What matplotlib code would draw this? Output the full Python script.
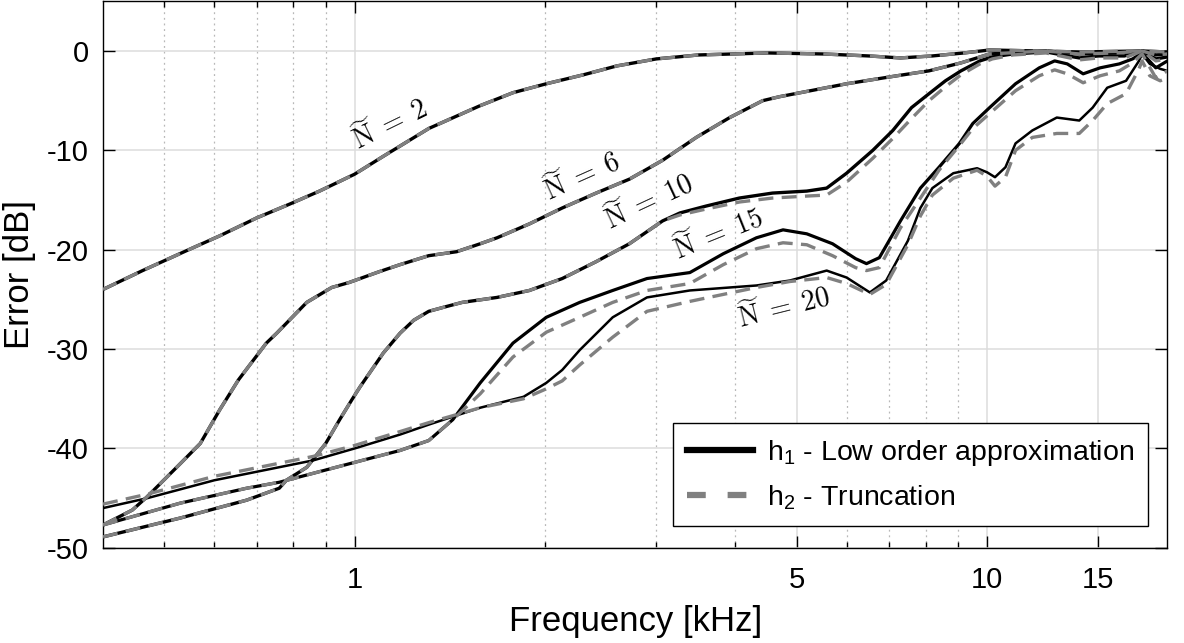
import matplotlib
matplotlib.use("Agg")
import matplotlib.pyplot as plt
from matplotlib.lines import Line2D
from matplotlib.ticker import FixedLocator, NullFormatter

plt.rcParams['font.family'] = ['Liberation Sans', 'DejaVu Sans']
plt.rcParams['mathtext.fontset'] = 'custom'
plt.rcParams['mathtext.rm'] = 'Liberation Sans'
plt.rcParams['mathtext.it'] = 'Liberation Sans:italic'
plt.rcParams['axes.unicode_minus'] = False

# frequency in kHz, error in dB
f2 = [0.40, 0.462, 0.542, 0.612, 0.70, 0.79, 0.88, 1.0, 1.11, 1.31, 1.58, 1.78, 2.01,
      2.3, 2.6, 3.0, 3.5, 4.5, 5.5, 6.5, 7.3, 8.2, 9.2, 10.1, 12, 14, 17.6, 19.3]
d2 = [-24.0, -22.1, -20.1, -18.6, -16.8, -15.4, -14.1, -12.4, -10.6, -7.8, -5.5, -4.2, -3.3,
      -2.4, -1.5, -0.8, -0.4, -0.2, -0.3, -0.5, -0.7, -0.5, -0.2, 0.1, 0.0, -0.1, 0.0, -0.1]

f6 = [0.40, 0.445, 0.469, 0.523, 0.57, 0.612, 0.655, 0.725, 0.753, 0.84, 0.92, 0.98, 1.095,
      1.18, 1.31, 1.45, 1.58, 1.68, 1.89, 2.13, 2.41, 2.72, 3.07, 3.47, 3.92, 4.42, 4.7,
      6.0, 7.2, 8.1, 9.1, 10.1, 12.4, 14, 16, 17.6, 18.5, 19.3]
d6 = [-47.7, -46.2, -44.9, -41.9, -39.5, -36.1, -33.1, -29.4, -28.4, -25.3, -23.8, -23.3, -22.2,
      -21.5, -20.6, -20.2, -19.4, -18.8, -17.4, -15.8, -14.3, -12.9, -11.0, -8.7, -6.7, -5.0, -4.6,
      -3.3, -2.5, -2.0, -1.2, -0.3, 0.0, -0.3, -0.2, 0.0, -0.4, -0.3]

f10 = [0.40, 0.53, 0.675, 0.76, 0.78, 0.84, 0.90, 0.947, 0.99, 1.02, 1.11, 1.18, 1.24, 1.31,
       1.40, 1.48, 1.68, 1.89, 2.13, 2.41, 2.72, 3.07, 3.27, 3.6, 4.06, 4.58, 5.19, 5.58, 6.0,
       6.6, 7.1, 7.6, 8.1, 8.6, 9.1, 9.75, 10.2, 11, 12.4, 14, 15, 16.5, 17.6, 18.5, 19.3]
d10_h1 = [-48.9, -47.0, -45.2, -44.0, -43.2, -41.9, -39.5, -37.1, -35.1, -33.8, -30.4, -28.4, -27.1, -26.2,
          -25.7, -25.3, -24.8, -24.1, -22.9, -21.2, -19.4, -17.1, -16.3, -15.6, -14.8, -14.3, -14.1, -13.8, -12.3,
          -10.0, -8.0, -5.7, -4.3, -3.0, -2.0, -1.0, -0.6, -0.3, -0.1, -0.7, -0.5, -0.5, 0.0, -0.8, -0.6]
d10_h2 = [-48.9, -47.0, -45.2, -44.0, -43.2, -41.9, -39.5, -37.1, -35.1, -33.8, -30.4, -28.4, -27.1, -26.2,
          -25.7, -25.3, -24.8, -24.1, -22.9, -21.2, -19.4, -17.1, -16.5, -15.9, -15.2, -14.8, -14.6, -14.5, -13.2,
          -10.8, -8.8, -6.8, -5.0, -3.6, -2.4, -1.3, -0.8, -0.4, -0.2, -0.9, -0.7, -0.7, 0.0, -1.0, -0.8]

f15 = [0.40, 0.53, 0.675, 0.76, 1.0, 1.18, 1.31, 1.43, 1.58, 1.78, 2.01, 2.27, 2.56, 2.9, 3.39,
       3.83, 4.32, 4.76, 5.19, 5.7, 6.2, 6.45, 6.76, 7.3, 7.85, 8.4, 9.05, 9.5, 10.1, 11.1, 12.1,
       12.8, 13.4, 14.2, 15.1, 16.2, 17.0, 17.6, 18.5, 19.3]
d15_h1 = [-47.7, -45.5, -44.0, -43.4, -41.4, -40.2, -39.2, -37.1, -33.4, -29.4, -26.8, -25.3, -24.1, -22.9, -22.3,
          -20.4, -18.8, -18.0, -18.4, -19.4, -20.9, -21.4, -20.8, -17.1, -13.8, -11.7, -9.3, -7.3, -5.7, -3.3, -1.7,
          -1.0, -1.3, -2.3, -1.7, -1.3, -0.8, -0.2, -1.7, -1.0]
d15_h2 = [-47.7, -45.5, -44.0, -43.4, -41.4, -40.2, -39.2, -37.1, -34.5, -30.8, -28.3, -26.8, -25.3, -24.1, -23.4,
          -21.5, -19.9, -19.3, -19.5, -20.6, -21.8, -22.1, -21.8, -17.8, -14.8, -12.0, -9.5, -7.8, -6.3, -4.0, -2.5,
          -1.9, -2.3, -3.2, -2.5, -2.0, -1.2, -0.3, -2.7, -2.0]

f20 = [0.40, 0.47, 0.60, 0.86, 1.0, 1.18, 1.31, 1.43, 1.58, 1.85, 2.01, 2.13, 2.27, 2.56, 2.9,
       3.39, 4.32, 4.88, 5.58, 6.0, 6.53, 6.93, 7.5, 7.85, 8.2, 8.85, 9.65, 10.0, 10.3, 10.7, 11.1,
       11.8, 12.9, 14.0, 14.7, 15.5, 16.6, 17.4, 17.6, 18.1, 18.8, 19.3]
d20_h1 = [-46.0, -45.0, -43.2, -41.2, -40.0, -38.6, -37.6, -36.8, -35.9, -34.8, -33.4, -32.1, -30.1, -26.8, -24.8,
          -24.1, -23.6, -23.1, -22.1, -22.8, -24.3, -23.1, -19.1, -15.8, -13.8, -12.3, -11.8, -12.2, -12.7, -11.7, -9.3,
          -8.0, -6.7, -7.0, -5.7, -3.7, -3.0, -1.0, -0.3, -1.3, -1.8, -2.0]
d20_h2 = [-45.6, -44.6, -42.8, -40.8, -39.7, -38.3, -37.4, -36.7, -35.9, -35.0, -34.0, -33.2, -31.6, -28.8, -26.2,
          -25.2, -23.8, -23.2, -22.8, -23.4, -24.5, -23.5, -19.5, -16.6, -14.5, -12.8, -12.0, -12.6, -13.6, -12.7, -10.0,
          -8.7, -8.3, -8.3, -7.0, -5.3, -4.3, -1.8, -1.0, -2.5, -3.0, -2.7]

curves = [
    (f2, d2, d2, 2.4),
    (f6, d6, d6, 2.4),
    (f10, d10_h1, d10_h2, 2.4),
    (f15, d15_h1, d15_h2, 2.3),
    (f20, d20_h1, d20_h2, 1.8),
]

# label text, position (kHz, dB), rotation
labels = [
    (r'$\widetilde{\mathrm{N}}\;=\;2$', 1.14, -7.4, 26),
    (r'$\widetilde{\mathrm{N}}\;=\;6$', 2.29, -12.6, 24),
    (r'$\widetilde{\mathrm{N}}\;=\;10$', 2.92, -15.1, 25),
    (r'$\widetilde{\mathrm{N}}\;=\;15$', 3.76, -18.4, 22),
    (r'$\widetilde{\mathrm{N}}\;=\;20$', 4.78, -25.8, 14),
]

gray = '#808080'

fig = plt.figure(figsize=(11.84, 6.43), dpi=100)
ax = fig.add_axes([0.087, 0.148, 0.899, 0.85])

for f, h1, h2, lw in curves:
    ax.plot(f, h1, color='black', lw=lw, solid_joinstyle='round', zorder=3)
    ax.plot(f, h2, color=gray, lw=2.4, dashes=(4.5, 2.5), zorder=4)

for txt, x, y, rot in labels:
    ax.text(x, y, txt, fontsize=20, rotation=rot, ha='center', va='center',
            math_fontfamily='cm', zorder=5, rotation_mode='anchor')

ax.set_xscale('log')
ax.set_xlim(0.40, 19.3)
ax.set_ylim(-50, 5)
ax.xaxis.set_major_locator(FixedLocator([1, 5, 10, 15]))
ax.xaxis.set_minor_locator(FixedLocator([0.5, 0.6, 0.7, 0.8, 0.9, 2, 3, 4, 6, 7, 8, 9]))
ax.xaxis.set_minor_formatter(NullFormatter())
ax.set_xticklabels(['1', '5', '10', '15'])
ax.set_yticks([-50, -40, -30, -20, -10, 0])

ax.grid(True, which='major', color='#dcdcdc', lw=1.1, zorder=0)
ax.grid(True, which='minor', axis='x', color='#b8b8b8', lw=0.9, ls=(0, (1.5, 3)), zorder=0)
ax.set_axisbelow(True)

ax.tick_params(which='both', direction='in', top=True, right=True, labelsize=21, width=1)
ax.tick_params(which='major', length=8.5)
ax.tick_params(which='minor', length=4.3)
ax.tick_params(axis='x', pad=13)
ax.tick_params(axis='y', pad=10)
for s in ax.spines.values():
    s.set_linewidth(1.0)

ax.set_xlabel('Frequency [kHz]', fontsize=25, labelpad=8)
ax.set_ylabel('Error [dB]', fontsize=25, labelpad=8)

handles = [Line2D([], [], color='black', lw=4.5),
           Line2D([], [], color=gray, lw=4.5, dashes=(3, 3.5))]
leg = ax.legend(handles, ['h$_1$ - Low order approximation', 'h$_2$ - Truncation'],
                loc='lower right', bbox_to_anchor=(0.982, 0.04), borderaxespad=0,
                fontsize=20.5, frameon=True, fancybox=False, edgecolor='black',
                framealpha=1, handlelength=2.3, handletextpad=0.5, borderpad=0.5,
                labelspacing=0.55)
leg.get_frame().set_linewidth(1.0)

fig.savefig('out.png', dpi=100)
